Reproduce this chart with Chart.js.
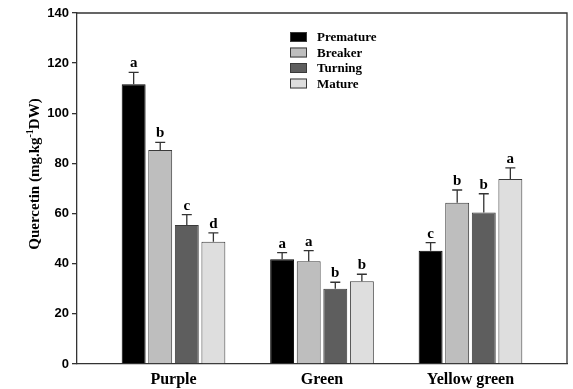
<!DOCTYPE html>
<html>
<head>
<meta charset="utf-8">
<script src="https://cdn.jsdelivr.net/npm/chart.js@4"></script>
<style>
  html, body { margin: 0; padding: 0; background: #fff; }
  #wrap { width: 573px; height: 389px; }
</style>
</head>
<body>
<div id="wrap"><canvas id="myChart" width="573" height="389"></canvas></div>
<script>
const categories = ['Purple', 'Green', 'Yellow green'];
const stages = ['Premature', 'Breaker', 'Turning', 'Mature'];
const premature = [111.6, 41.8, 45.2];
const breaker = [85.4, 41.0, 64.3];
const turning = [55.4, 30.0, 60.4];
const mature = [48.8, 33.0, 73.8];
const prematureErr = [4.7, 2.6, 3.2];
const breakerErr = [3.0, 4.2, 5.1];
const turningErr = [4.2, 2.6, 7.5];
const matureErr = [3.5, 2.8, 4.4];
const prematureLetters = ['a', 'a', 'c'];
const breakerLetters = ['b', 'a', 'b'];
const turningLetters = ['c', 'b', 'b'];
const matureLetters = ['d', 'b', 'a'];
const yTicks = [0, 20, 40, 60, 80, 100, 120, 140];

const fills = ['#000000', '#bebebe', '#5e5e5e', '#dedede'];
const serif = '"Liberation Serif", "Times New Roman", serif';
const sans = '"Liberation Sans", Arial, sans-serif';

const values = [premature, breaker, turning, mature];
const errs = [prematureErr, breakerErr, turningErr, matureErr];
const letters = [prematureLetters, breakerLetters, turningLetters, matureLetters];

const datasets = stages.map((name, i) => ({
  label: name,
  data: values[i].map((v, j) => ({ x: j + 1, y: v })),
  errors: errs[i],
  letters: letters[i],
  backgroundColor: fills[i],
  borderColor: i === 0 ? '#000' : '#3a3a3a',
  borderWidth: 1,
  categoryPercentage: 0.716,
  barPercentage: 0.9
}));

// error bars, significance letters, box, legend and y title
const extras = {
  id: 'extras',
  afterDatasetsDraw(chart) {
    const ctx = chart.ctx;
    const y = chart.scales.y;
    const area = chart.chartArea;
    ctx.save();
    chart.data.datasets.forEach((ds, i) => {
      const meta = chart.getDatasetMeta(i);
      meta.data.forEach((bar, j) => {
        const top = y.getPixelForValue(ds.data[j].y + ds.errors[j]);
        ctx.strokeStyle = '#333';
        ctx.lineWidth = 1.3;
        ctx.beginPath();
        ctx.moveTo(bar.x, bar.y);
        ctx.lineTo(bar.x, top);
        ctx.moveTo(bar.x - 5, top);
        ctx.lineTo(bar.x + 5, top);
        ctx.stroke();
        ctx.fillStyle = '#000';
        ctx.font = 'bold 15px ' + serif;
        ctx.textAlign = 'center';
        ctx.textBaseline = 'alphabetic';
        ctx.fillText(ds.letters[j], bar.x, top - 5);
      });
    });

    // top and right frame lines
    ctx.strokeStyle = '#333';
    ctx.lineWidth = 1.3;
    ctx.beginPath();
    ctx.moveTo(area.left, area.top);
    ctx.lineTo(area.right, area.top);
    ctx.lineTo(area.right, area.bottom);
    ctx.stroke();

    // legend
    ctx.font = 'bold 13px ' + serif;
    ctx.textAlign = 'left';
    ctx.textBaseline = 'middle';
    chart.data.datasets.forEach((ds, i) => {
      const ly = 37 + i * 15.5;
      ctx.fillStyle = ds.backgroundColor;
      ctx.fillRect(290, ly - 5, 17, 10);
      ctx.strokeStyle = '#3a3a3a';
      ctx.lineWidth = 1;
      ctx.strokeRect(290.5, ly - 4.5, 16, 9);
      ctx.fillStyle = '#000';
      ctx.fillText(ds.label, 317, ly + 1);
    });

    // y axis title with superscript
    const mainFont = 'bold 15px ' + serif;
    const supFont = 'bold 10px ' + serif;
    const p1 = 'Quercetin (mg.kg', p2 = '-1', p3 = 'DW)';
    ctx.font = mainFont;
    const w1 = ctx.measureText(p1).width, w3 = ctx.measureText(p3).width;
    ctx.font = supFont;
    const w2 = ctx.measureText(p2).width;
    const total = w1 + w2 + w3;
    ctx.translate(38.5, 174);
    ctx.rotate(-Math.PI / 2);
    ctx.textAlign = 'left';
    ctx.textBaseline = 'alphabetic';
    ctx.fillStyle = '#000';
    let cx = -total / 2;
    ctx.font = mainFont;
    ctx.fillText(p1, cx, 0);
    cx += w1;
    ctx.font = supFont;
    ctx.fillText(p2, cx, -6);
    cx += w2;
    ctx.font = mainFont;
    ctx.fillText(p3, cx, 0);
    ctx.restore();
  }
};

new Chart(document.getElementById('myChart').getContext('2d'), {
  type: 'bar',
  data: { datasets: datasets },
  plugins: [extras],
  options: {
    responsive: false,
    animation: false,
    layout: { padding: { left: 0, right: 6, top: 13, bottom: 0 } },
    plugins: { legend: { display: false }, tooltip: { enabled: false } },
    scales: {
      x: {
        type: 'linear',
        min: 0.35,
        max: 3.65,
        offset: false,
        grid: { display: false, offset: false, drawTicks: false },
        border: { display: true, color: '#333', width: 1.3 },
        afterBuildTicks: (scale) => {
          scale.ticks = categories.map((c, i) => ({ value: i + 1 }));
        },
        afterFit: (scale) => { scale.height = 25; },
        ticks: {
          autoSkip: false,
          maxRotation: 0,
          padding: 6,
          color: '#000',
          font: { family: serif, size: 16, weight: 'bold' },
          callback: (v) => categories[v - 1]
        }
      },
      y: {
        min: 0,
        max: 140,
        afterBuildTicks: (scale) => {
          scale.ticks = yTicks.map(v => ({ value: v }));
        },
        afterFit: (scale) => { scale.width = 77; },
        grid: { drawOnChartArea: false, drawTicks: true, tickLength: 5, color: '#333', lineWidth: 1.3 },
        border: { display: true, color: '#333', width: 1.3 },
        ticks: {
          padding: 3,
          color: '#000',
          font: { family: sans, size: 13, weight: 'bold' }
        }
      }
    }
  }
});
</script>
</body>
</html>
